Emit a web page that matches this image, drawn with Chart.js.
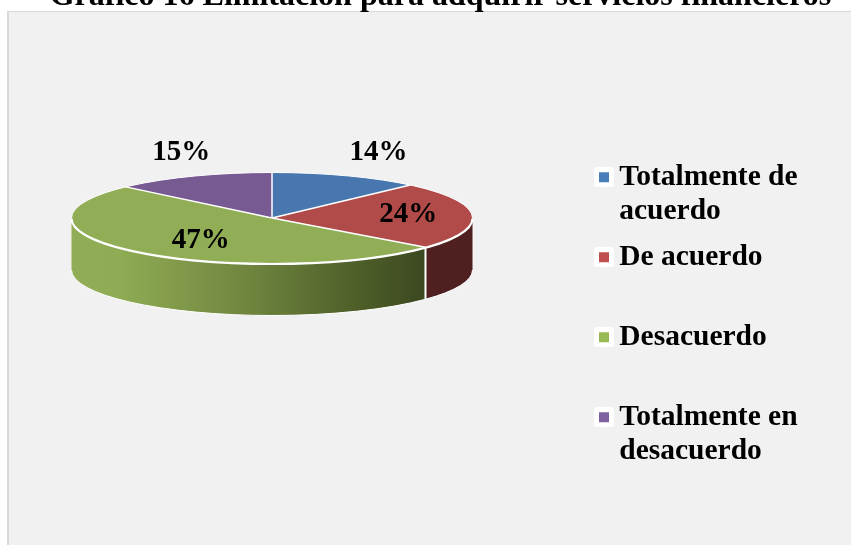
<!DOCTYPE html>
<html><head><meta charset="utf-8">
<style>html,body{margin:0;padding:0;background:#fff}canvas{display:block}</style>
<script src="https://cdn.jsdelivr.net/npm/chart.js@4/dist/chart.umd.js"></script>
</head><body><canvas id="c" width="851" height="545"></canvas>
<script>
const chartTitle = 'Gráfico 16 Limitación para adquirir servicios financieros';
const categories = [['Totalmente de','acuerdo'],['De acuerdo',''],['Desacuerdo',''],['Totalmente en','desacuerdo']];
const values = [14, 24, 47, 15];
const sliceColors = ['#4777ae','#b04b49','#91ad55','#785a92'];
const legendColors = ['#4a7ebb','#c0504d','#98b954','#7f60a0'];

// 3D projection settings
const PIE_BOX = {left:71.5, right:472.5, top:17.5, bottom:418.5};
const SQUASH = 45.5/200.5, DEPTH = 52, PERSPECTIVE = 0.85;
const LABEL_F = [[1.43,1.56],[0.68,1.5],[0.535,0.66],[1.14,1.56]];
const FONT = '"Liberation Serif","Times New Roman",serif';

function warp(t){ return 2*Math.atan2(PERSPECTIVE*Math.sin(t/2), Math.cos(t/2)); }
function marker(col){
  const m=document.createElement('canvas'); m.width=20; m.height=20;
  const g=m.getContext('2d');
  g.fillStyle='#fff'; g.beginPath(); g.roundRect(0,0,20,20,3); g.fill();
  g.fillStyle=col; g.fillRect(5,5,10,10);
  return m;
}
const pie3d = {
  id:'pie3d',
  beforeDraw(chart){
    const c=chart.ctx; c.save();
    c.fillStyle='#fff'; c.fillRect(0,0,851,545);
    c.fillStyle='#d9d9d9'; c.fillRect(7,11,844,534);
    c.fillStyle='#f1f1f1'; c.fillRect(9,12,842,533);
    c.restore();
  },
  afterLayout(chart){
    Object.assign(chart.chartArea, PIE_BOX);
    const t=chart.titleBlock; t.left=30; t.right=851;
    const l=chart.legend; const w=l.width;
    l.left=591.5; l.right=591.5+w; l.top=150.5; l.bottom=545;
  },
  afterDatasetsUpdate(chart){
    chart.getDatasetMeta(0).data.forEach(el=>{
      const s=warp(el.startAngle+Math.PI/2)-Math.PI/2;
      const e=warp(el.endAngle+Math.PI/2)-Math.PI/2;
      el.startAngle=s; el.endAngle=e; el.circumference=e-s;
    });
  },
  beforeDatasetsDraw(chart){
    const c=chart.ctx, arcs=chart.getDatasetMeta(0).data;
    const {x:cx,y:cy,outerRadius:r}=arcs[0], ry=r*SQUASH;
    arcs.forEach((el,i)=>{
      const a=Math.max(el.startAngle,0), b=Math.min(el.endAngle,Math.PI);
      if(b<=a) return;
      c.save();
      c.beginPath();
      c.ellipse(cx,cy,r,ry,0,a,b);
      c.ellipse(cx,cy+DEPTH,r,ry,0,b,a,true);
      c.closePath();
      if(i===2){
        const g=c.createLinearGradient(cx-r,0,cx+153,0);
        g.addColorStop(0,'#91ad55'); g.addColorStop(0.14,'#8fab53');
        g.addColorStop(0.5,'#6f853f'); g.addColorStop(0.8,'#4f6029'); g.addColorStop(1,'#3c4820');
        c.fillStyle=g;
      } else c.fillStyle='#4f201f';
      c.fill();
      c.strokeStyle='#fff'; c.lineWidth=1;
      c.beginPath(); c.ellipse(cx,cy+DEPTH,r,ry,0,b,a,true); c.stroke();
      c.lineWidth=2;
      if(a>0){ const px=cx+r*Math.cos(a), py=cy+ry*Math.sin(a);
        c.beginPath(); c.moveTo(px,py); c.lineTo(px,py+DEPTH); c.stroke(); }
      c.restore();
    });
    c.save();
    c.translate(cx,cy); c.scale(1,SQUASH); c.translate(-cx,-cy);
  },
  afterDatasetsDraw(chart){
    const c=chart.ctx; c.restore();
    const arcs=chart.getDatasetMeta(0).data;
    const {x:cx,y:cy,outerRadius:r}=arcs[0], ry=r*SQUASH;
    c.save();
    c.strokeStyle='#fff';
    c.lineWidth=1.5;
    arcs.forEach(el=>{
      c.beginPath(); c.moveTo(cx,cy);
      c.lineTo(cx+r*Math.cos(el.startAngle), cy+ry*Math.sin(el.startAngle)); c.stroke();
    });
    c.beginPath(); c.ellipse(cx,cy,r,ry,0,Math.PI,2*Math.PI); c.lineWidth=1; c.stroke();
    c.beginPath(); c.ellipse(cx,cy+0.5,r,ry,0,0,Math.PI); c.lineWidth=2.2; c.stroke();
    c.fillStyle='#000'; c.font='bold 29px '+FONT; c.textAlign='center'; c.textBaseline='middle';
    arcs.forEach((el,i)=>{
      const m=(el.startAngle+el.endAngle)/2;
      c.fillText(values[i]+'%', cx+r*Math.cos(m)*LABEL_F[i][0], cy+ry*Math.sin(m)*LABEL_F[i][1]);
    });
    c.restore();
  }
};
new Chart(document.getElementById('c'),{
  type:'pie',
  data:{labels:categories,datasets:[{data:values,backgroundColor:sliceColors,borderWidth:0,radius:200.5,clip:false}]},
  plugins:[pie3d],
  options:{
    responsive:false,animation:false,
    layout:{padding:0},
    plugins:{
      tooltip:{enabled:false},
      title:{display:true,text:chartTitle,color:'#000',padding:{top:-22.5,bottom:0},
        font:{family:FONT,size:32,weight:'bold',lineHeight:1.2}},
      legend:{position:'right',align:'start',
        labels:{color:'#000',usePointStyle:true,pointStyleWidth:1,padding:12,
          font:{family:FONT,size:29.5,weight:'bold',lineHeight:34/29.5},
          generateLabels:()=>categories.map((t,i)=>({text:t,fillStyle:legendColors[i],strokeStyle:'transparent',lineWidth:0,
            pointStyle:marker(legendColors[i]),hidden:false,index:i}))}}
    }
  }
});
</script></body></html>
